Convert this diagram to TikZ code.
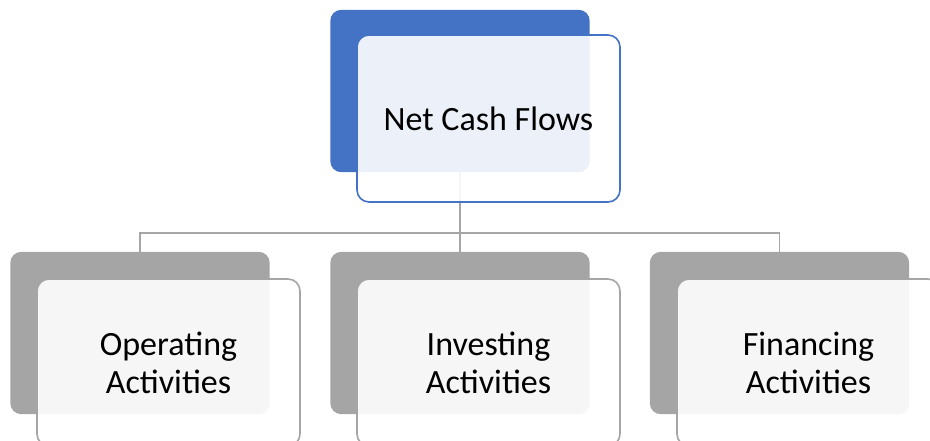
\documentclass[tikz,border=0pt]{standalone}
\usepackage{fontspec}
\setmainfont{Carlito}
\definecolor{accblue}{HTML}{4472C4}
\definecolor{accgray}{HTML}{A5A5A5}
\definecolor{conngray}{HTML}{A5A5A5}
\begin{document}
\begin{tikzpicture}[x=1pt,y=-1pt,
  backbox/.style={rectangle, rounded corners=11pt, inner sep=0pt,
    minimum width=259pt, minimum height=162pt},
  frontbox/.style={rectangle, rounded corners=12pt, inner sep=0pt,
    minimum width=263pt, minimum height=167pt, line width=1.6pt,
    fill=white, fill opacity=0.9, text opacity=1, align=center,
    font=\fontsize{34}{38}\selectfont},
  conn/.style={draw=conngray, line width=1.6pt}]
\useasboundingbox (0,0) rectangle (930,441);
% bus coordinate
\coordinate (bus) at (0,233);
% back boxes (positions only, drawn after connectors)
\path (460,91) node[backbox] (tb) {};
\path (140,333) node[backbox] (b1) {};
\path (460,333) node[backbox] (b2) {};
\path (779.5,333) node[backbox] (b3) {};
% connectors
\draw[conn] (tb.south) -- (tb.south |- bus);
\draw[conn] (b1.north) -- (b1.north |- bus) -- (b3.north |- bus) -- (b3.north);
\draw[conn] (b2.north) -- (b2.north |- bus);
% fill back boxes
\fill[accblue, rounded corners=11pt] (tb.north west) rectangle (tb.south east);
\fill[accgray, rounded corners=11pt] (b1.north west) rectangle (b1.south east);
\fill[accgray, rounded corners=11pt] (b2.north west) rectangle (b2.south east);
\fill[accgray, rounded corners=11pt] (b3.north west) rectangle (b3.south east);
% front boxes
\node[frontbox, draw=accblue] (tf) at (488.5,118.5) {Net Cash Flows};
\node[frontbox, draw=accgray] (f1) at (168.5,362.5) {Operating\\Activities};
\node[frontbox, draw=accgray] (f2) at (488.5,362.5) {Investing\\Activities};
\node[frontbox, draw=accgray] (f3) at (808.5,362.5) {Financing\\Activities};
\end{tikzpicture}
\end{document}
